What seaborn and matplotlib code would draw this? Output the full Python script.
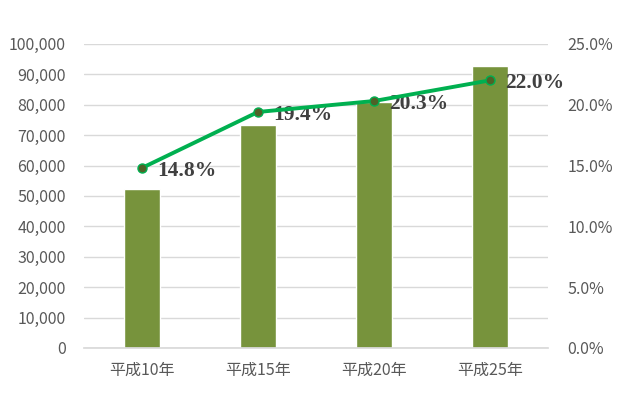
import matplotlib

matplotlib.use("Agg")

import matplotlib.pyplot as plt
import pandas as pd
import seaborn as sns
from matplotlib.ticker import FuncFormatter, MultipleLocator

sns.set_theme(style="white")
plt.rcParams["font.family"] = ["Noto Sans CJK JP", "DejaVu Sans"]

years = ["平成10年", "平成15年", "平成20年", "平成25年"]
counts = [52300, 73400, 80900, 92800]
ratios = [14.8, 19.4, 20.3, 22.0]

BAR_COLOR = "#77933C"
LINE_COLOR = "#00B050"
TEXT_GRAY = "#595959"

df = pd.DataFrame({"year": years, "count": counts, "ratio": ratios})

fig = plt.figure(figsize=(6.22, 3.95), dpi=100)
ax = fig.add_axes([0.135, 0.119, 0.746, 0.770])

sns.barplot(df, x="year", y="count", color=BAR_COLOR, width=0.31,
            saturation=1, ax=ax, zorder=2)
ax.set_ylim(0, 100000)
ax.set_xlim(-0.5, 3.5)
ax.yaxis.set_major_locator(MultipleLocator(10000))
ax.yaxis.set_major_formatter(FuncFormatter(lambda v, _: f"{v:,.0f}"))
ax.grid(axis="y", color="#D9D9D9", linewidth=1, zorder=0)
ax.set_axisbelow(True)
ax.set_xlabel("")
ax.set_ylabel("")
for s in ax.spines.values():
    s.set_visible(False)
ax.spines["bottom"].set_visible(True)
ax.spines["bottom"].set_color("#D9D9D9")
ax.tick_params(axis="both", length=0, labelsize=11.5, labelcolor=TEXT_GRAY)
ax.tick_params(axis="x", pad=10)
ax.tick_params(axis="y", pad=13)

ax2 = ax.twinx()
sns.lineplot(df, x="year", y="ratio", color=LINE_COLOR, linewidth=2.8,
             marker="o", markersize=6.5, markerfacecolor="#4F6228",
             markeredgecolor=LINE_COLOR, markeredgewidth=1, ax=ax2, zorder=3)
ax2.set_ylim(0, 25)
ax2.yaxis.set_major_locator(MultipleLocator(5))
ax2.yaxis.set_major_formatter(FuncFormatter(lambda v, _: f"{v:.1f}%"))
ax2.set_ylabel("")
for s in ax2.spines.values():
    s.set_visible(False)
ax2.tick_params(axis="y", length=0, labelsize=11.5, labelcolor=TEXT_GRAY, pad=14)

for i, r in enumerate(ratios):
    ax2.annotate(f"{r:.1f}%", (i, r), xytext=(11, -2), textcoords="offset points",
                 ha="left", va="center", fontsize=15.5, fontweight="bold",
                 color="#404040", family=["Liberation Serif"], zorder=2.5)

fig.savefig("out.png", dpi=100)
